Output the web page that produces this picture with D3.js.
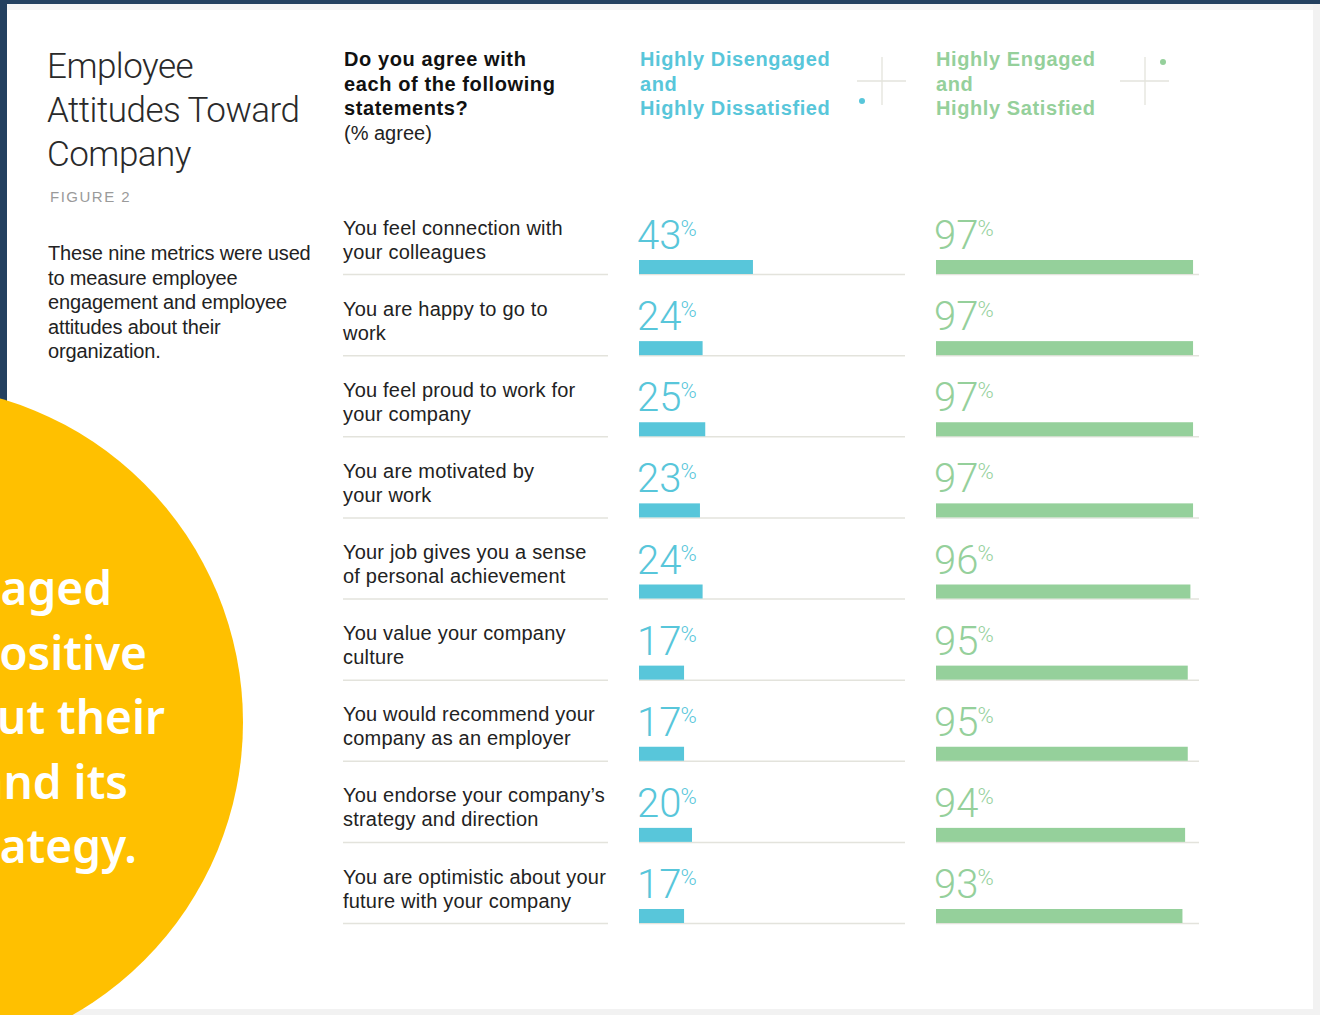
<!DOCTYPE html>
<html>
<head>
<meta charset="utf-8">
<script src="https://cdn.jsdelivr.net/npm/d3@7"></script>
<style>
body { margin:0; background:#23405f; }
svg text { font-family: "Liberation Sans", Arial, sans-serif; }
</style>
</head>
<body>
<script>
// statements, left column
var statements = [
  ["You feel connection with", "your colleagues"],
  ["You are happy to go to", "work"],
  ["You feel proud to work for", "your company"],
  ["You are motivated by", "your work"],
  ["Your job gives you a sense", "of personal achievement"],
  ["You value your company", "culture"],
  ["You would recommend your", "company as an employer"],
  ["You endorse your company\u2019s", "strategy and direction"],
  ["You are optimistic about your", "future with your company"]
];
var disengaged = [43, 24, 25, 23, 24, 17, 17, 20, 17];
var engaged = [97, 97, 97, 97, 96, 95, 95, 94, 93];

var titleLines = ["Employee", "Attitudes Toward", "Company"];
var descLines = ["These nine metrics were used", "to measure employee", "engagement and employee", "attitudes about their", "organization."];
var questionLines = ["Do you agree with", "each of the following", "statements?"];
var blueHead = ["Highly Disengaged", "and", "Highly Dissatisfied"];
var greenHead = ["Highly Engaged", "and", "Highly Satisfied"];
var bubbleLines = ["Engaged", "have positive", "views about their", "company and its", "strategy."];

var W = 1320, H = 1015;
var blue = "#58c6da", green = "#95d09b", rule = "#e3e3dc", ink = "#222";

var svg = d3.select("body").append("svg")
  .attr("width", W)
  .attr("height", H)
  .style("display", "block");

// page
svg.append("rect").attr("x", 0).attr("y", 0).attr("width", W).attr("height", H).attr("fill", "#23405f");
svg.append("rect").attr("x", 7).attr("y", 4).attr("width", W - 7).attr("height", H - 4).attr("fill", "#f2f2f2");
svg.append("rect").attr("x", 7).attr("y", 4).attr("width", W - 14).attr("height", H - 10).attr("fill", "#fff");
svg.append("rect").attr("x", 7).attr("y", 4).attr("width", W - 14).attr("height", 6).attr("fill", "#f4f4f4");

// title block
svg.append("g").selectAll("text").data(titleLines).enter().append("text")
  .attr("x", 47)
  .attr("y", function(d, i){ return 78 + i * 44; })
  .style("font-family", "Roboto, 'Liberation Sans', sans-serif")
  .style("font-weight", 300)
  .style("font-size", "35px")
  .style("letter-spacing", "-0.5px")
  .attr("fill", "#2a2a2a")
  .text(function(d){ return d; });

svg.append("text").attr("x", 50).attr("y", 202)
  .style("font-size", "15px").style("letter-spacing", "1.5px")
  .attr("fill", "#9a9a9a").text("FIGURE 2");

svg.append("g").selectAll("text").data(descLines).enter().append("text")
  .attr("x", 48)
  .attr("y", function(d, i){ return 260 + i * 24.6; })
  .style("font-size", "20px")
  .style("letter-spacing", "-0.15px")
  .attr("fill", ink)
  .text(function(d){ return d; });

// column heads
function head(lines, x, color){
  svg.append("g").selectAll("text").data(lines).enter().append("text")
    .attr("x", x)
    .attr("y", function(d, i){ return 66 + i * 24.6; })
    .style("font-size", "20px")
    .style("font-weight", "bold")
    .style("letter-spacing", "0.6px")
    .attr("fill", color)
    .text(function(d){ return d; });
}
head(questionLines, 344, "#111");
svg.append("text").attr("x", 344).attr("y", 140)
  .style("font-size", "20px").attr("fill", ink).text("(% agree)");
head(blueHead, 640, blue);
head(greenHead, 936, green);

// crosses + dots
function cross(cx, cy){
  svg.append("line").attr("x1", cx - 25).attr("x2", cx + 24).attr("y1", cy).attr("y2", cy)
    .attr("stroke", rule).attr("stroke-width", 1.3);
  svg.append("line").attr("x1", cx).attr("x2", cx).attr("y1", cy - 24).attr("y2", cy + 24)
    .attr("stroke", rule).attr("stroke-width", 1.3);
}
cross(882, 81);
cross(1145, 81);
svg.append("circle").attr("cx", 862).attr("cy", 101).attr("r", 3).attr("fill", blue);
svg.append("circle").attr("cx", 1163).attr("cy", 62).attr("r", 3).attr("fill", green);

// rows
var y = d3.scalePoint().domain(d3.range(statements.length)).range([274.5, 923.5]);
var xBlue = d3.scaleLinear().domain([0, 100]).range([639, 904]);
var xGreen = d3.scaleLinear().domain([0, 100]).range([936, 1201]);

var rows = svg.append("g").selectAll("g").data(statements).enter().append("g")
  .attr("transform", function(d, i){ return "translate(0," + y(i) + ")"; });

rows.append("line").attr("x1", 343).attr("x2", 608).attr("stroke", rule).attr("stroke-width", 1.5);
rows.append("line").attr("x1", xBlue(0)).attr("x2", 905).attr("stroke", rule).attr("stroke-width", 1.5);
rows.append("line").attr("x1", xGreen(0)).attr("x2", 1199).attr("stroke", rule).attr("stroke-width", 1.5);

rows.selectAll("text.lab").data(function(d){ return d; }).enter().append("text")
  .attr("class", "lab")
  .attr("x", 343)
  .attr("y", function(d, i){ return -40 + i * 24; })
  .style("font-size", "20px")
  .style("letter-spacing", "0.2px")
  .attr("fill", ink)
  .text(function(d){ return d; });

function series(vals, x, color){
  rows.append("rect")
    .attr("x", x(0))
    .attr("y", -14.5)
    .attr("width", function(d, i){ return x(vals[i]) - x(0); })
    .attr("height", 14)
    .attr("fill", color);
  var t = rows.append("text")
    .attr("x", x(0) - 2)
    .attr("y", -25.5)
    .style("font-family", "Roboto, 'Liberation Sans', sans-serif")
    .style("font-weight", 300)
    .style("font-size", "40px")
    .style("letter-spacing", "0px")
    .attr("fill", color);
  t.append("tspan").text(function(d, i){ return vals[i]; });
  t.append("tspan").attr("dy", -13).attr("dx", -1)
    .style("font-size", "22px")
    .text("%");
}
series(disengaged, xBlue, blue);
series(engaged, xGreen, green);

// yellow bubble
svg.append("circle").attr("cx", -94).attr("cy", 722).attr("r", 337).attr("fill", "#ffc000");
svg.append("g").selectAll("text").data(bubbleLines).enter().append("text")
  .attr("text-anchor", "end")
  .attr("x", function(d, i){ return [112, 147, 165, 128, 137][i]; })
  .attr("y", function(d, i){ return 605 + i * 64.5; })
  .style("font-family", "'Noto Sans', sans-serif")
  .style("font-weight", 600)
  .style("font-size", "46px")
  .attr("fill", "#fff")
  .text(function(d){ return d; });
</script>
</body>
</html>
